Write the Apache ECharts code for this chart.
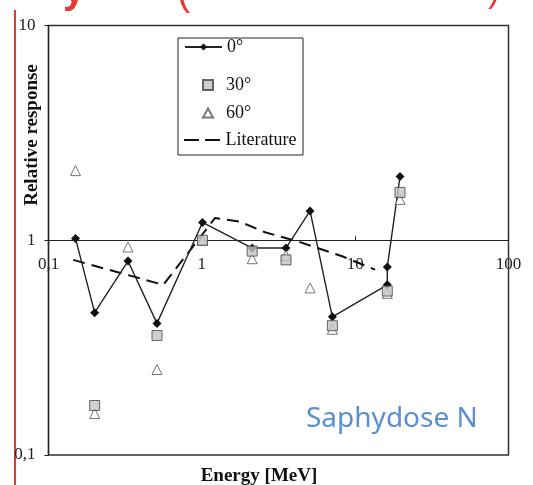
<!DOCTYPE html>
<html>
<head>
<meta charset="utf-8">
<script src="https://cdn.jsdelivr.net/npm/echarts@6/dist/echarts.min.js"></script>
<style>html,body{margin:0;padding:0;background:#fff;}#c{width:533px;height:485px;}</style>
</head>
<body>
<div id="c"></div>
<script>
// ---- data ----
const energy0 = [0.15, 0.2, 0.33, 0.51, 1.01, 2.13, 3.54, 5.08, 7.1, 16.2, 16.2, 19.6];
const resp0   = [1.02, 0.46, 0.80, 0.41, 1.21, 0.92, 0.92, 1.37, 0.44, 0.62, 0.75, 1.98];
const energy30 = [0.2, 0.51, 1.01, 2.13, 3.54, 7.1, 16.2, 19.6];
const resp30   = [0.17, 0.36, 1.0, 0.89, 0.81, 0.40, 0.58, 1.67];
const energy60 = [0.15, 0.2, 0.33, 0.51, 1.01, 2.13, 3.54, 5.08, 7.1, 16.2, 19.6];
const resp60   = [2.11, 0.156, 0.93, 0.25, 1.0, 0.82, 0.85, 0.60, 0.385, 0.566, 1.55];
const energyLit = [0.145, 0.56, 1.22, 1.77, 2.58, 4.36, 8.3, 13.5];
const respLit   = [0.81, 0.62, 1.27, 1.22, 1.09, 0.98, 0.84, 0.73];
const seriesNames = ['0°', '30°', '60°', 'Literature'];
const xTicks = [0.1, 1, 10, 100];
const yTicks = [0.1, 1, 10];

const pairs = (xs, ys) => xs.map((x, i) => [x, ys[i]]);
const fmt = v => (v < 0.5 ? '0,1' : String(Math.round(v)));
const serif = 'Liberation Serif';

const chart = echarts.init(document.getElementById('c'));
const legendText = { fontFamily: serif, fontSize: 18, color: '#111' };
const option = {
  animation: false,
  backgroundColor: '#fff',
  grid: { left: 48.5, right: 24.5, top: 25.5, bottom: 30, show: true, borderColor: '#333', borderWidth: 1.5 },
  xAxis: {
    type: 'log', logBase: 10, min: xTicks[0], max: xTicks[xTicks.length - 1],
    position: 'bottom', offset: -214.75,
    axisLine: { lineStyle: { color: '#222', width: 1.2 } },
    axisTick: { inside: true, length: 4, lineStyle: { color: '#222' } },
    axisLabel: { margin: 16, fontFamily: serif, fontSize: 17, color: '#222', formatter: fmt },
    splitLine: { show: false }, minorTick: { show: false }
  },
  yAxis: {
    type: 'log', logBase: 10, min: yTicks[0], max: yTicks[yTicks.length - 1],
    axisLine: { show: true, lineStyle: { color: '#222', width: 1.2 } },
    axisTick: { show: true, inside: false, length: 4, lineStyle: { color: '#222' } },
    axisLabel: { margin: 13, fontFamily: serif, fontSize: 17, color: '#222', formatter: fmt },
    splitLine: { show: false }
  },
  legend: [
    { data: [seriesNames[0]], left: 184, top: 38, padding: 0, itemWidth: 37, itemHeight: 9, textStyle: legendText },
    { data: [{ name: seriesNames[1], icon: 'rect' }], left: 202, top: 76, padding: 0, itemWidth: 10, itemHeight: 10,
      textStyle: Object.assign({ padding: [0, 0, 0, 8] }, legendText) },
    { data: [{ name: seriesNames[2], icon: 'triangle' }], left: 202, top: 104, padding: 0, itemWidth: 10, itemHeight: 9,
      textStyle: Object.assign({ padding: [0, 0, 0, 8] }, legendText) },
    { data: [{ name: seriesNames[3], icon: 'path://M0,0H15V2H0Z M21,0H36V2H21Z' }], left: 184, top: 131, padding: 0, itemWidth: 37, itemHeight: 2,
      itemStyle: { color: '#111' }, textStyle: legendText }
  ],
  series: [
    { name: 'Literature', type: 'line', data: pairs(energyLit, respLit), showSymbol: false, symbol: 'none',
      itemStyle: { color: '#111' }, lineStyle: { color: '#111', width: 2, type: [12, 7] }, z: 1 },
    { name: '0°', type: 'line', data: pairs(energy0, resp0), symbol: 'diamond', symbolSize: 9,
      itemStyle: { color: '#111' }, lineStyle: { color: '#222', width: 1.4 }, z: 2 },
    { name: '60°', type: 'scatter', data: pairs(energy60, resp60), symbol: 'triangle', symbolSize: 10,
      itemStyle: { color: '#fff', borderColor: '#555', borderWidth: 1 }, z: 3 },
    { name: '30°', type: 'scatter', data: pairs(energy30, resp30), symbol: 'rect', symbolSize: 10,
      itemStyle: { color: '#c4c4c4', borderColor: '#444', borderWidth: 1 }, z: 4 }
  ],
  graphic: [
    { type: 'rect', shape: { x: 178, y: 38, width: 125, height: 117 }, style: { fill: null, stroke: '#222', lineWidth: 1 }, z: 10 },
    { type: 'line', shape: { x1: 15, y1: 10, x2: 15, y2: 485 }, style: { stroke: '#e53935', lineWidth: 2 } },
    { type: 'text', x: 32, y: 135, rotation: Math.PI / 2, style: { text: 'Relative response', fontFamily: serif, fontWeight: 'bold', fontSize: 19, fill: '#111', align: 'center', verticalAlign: 'middle' } },
    { type: 'text', x: 259, y: 476, style: { text: 'Energy [MeV]', fontFamily: serif, fontWeight: 'bold', fontSize: 19, fill: '#111', align: 'center', verticalAlign: 'middle' } },
    { type: 'text', x: 306, y: 419, style: { text: 'Saphydose N', fontFamily: 'Noto Sans', fontSize: 28, fill: '#5B8FD4', align: 'left', verticalAlign: 'middle' } },
    { type: 'text', x: 63, y: 12, style: { text: 'y', fontFamily: 'Liberation Sans', fontSize: 40, fontWeight: 'bold', fill: '#e53935', align: 'left', verticalAlign: 'bottom' } },
    { type: 'text', x: 177, y: 14, style: { text: '(', fontFamily: 'Liberation Sans', fontSize: 40, fill: '#e53935', align: 'left', verticalAlign: 'bottom' } },
    { type: 'text', x: 488, y: 9, style: { text: ')', fontFamily: 'Liberation Sans', fontSize: 36, fill: '#e53935', align: 'left', verticalAlign: 'bottom' } }
  ]
};
chart.setOption(option);
</script>
</body>
</html>
